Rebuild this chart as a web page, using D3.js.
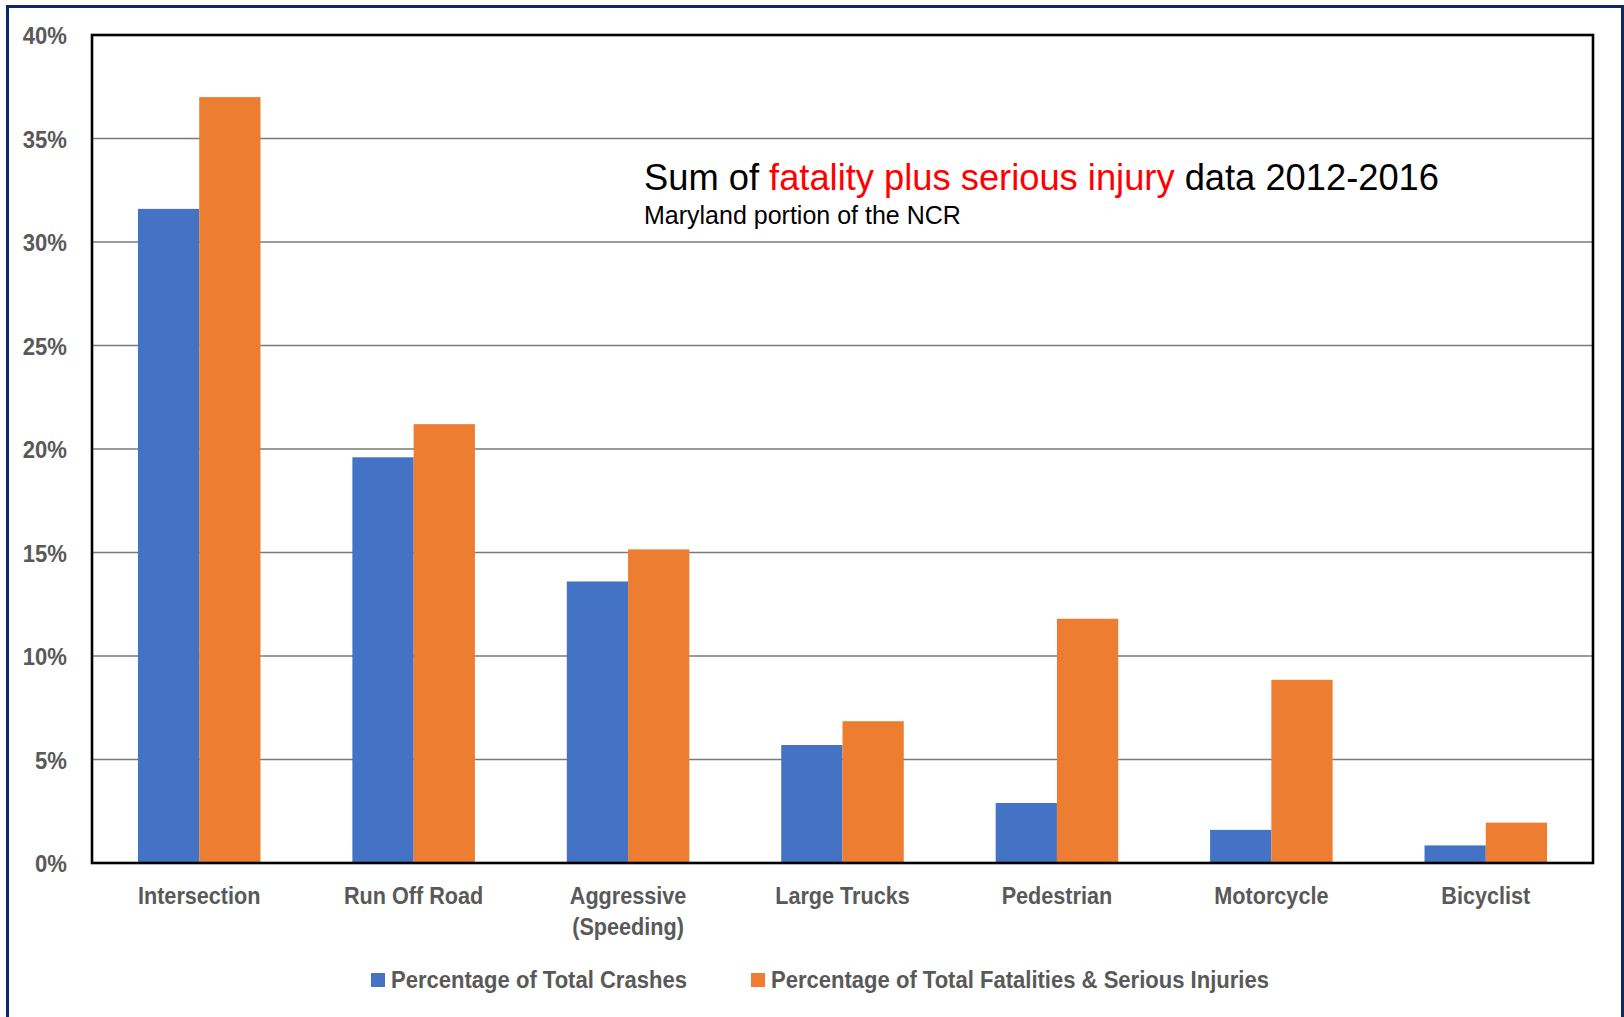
<!DOCTYPE html>
<html>
<head>
<meta charset="utf-8">
<script src="https://cdn.jsdelivr.net/npm/d3@7"></script>
<style>
  html, body { margin: 0; padding: 0; background: #fff; overflow: hidden; }
  svg text { font-family: "Liberation Sans", Arial, sans-serif; }
</style>
</head>
<body>
<script>
// chart data
const categories = ['Intersection', 'Run Off Road', 'Aggressive\n(Speeding)', 'Large Trucks', 'Pedestrian', 'Motorcycle', 'Bicyclist']
const seriesNames = ['Percentage of Total Crashes', 'Percentage of Total Fatalities & Serious Injuries']
const crashes = [31.6, 19.6, 13.6, 5.7, 2.9, 1.6, 0.85]
const fatalities = [37.0, 21.2, 15.15, 6.85, 11.8, 8.85, 1.95]
const yTicks = [0, 5, 10, 15, 20, 25, 30, 35, 40]
const colors = ['#4472C4', '#ED7D31']

const WIDTH = 1624
const HEIGHT = 1017
const plot = { left: 92, right: 1593, top: 35, bottom: 863 }

// squeeze text a little, the original uses a narrow face
function narrow(sel, k) {
  sel.each(function() {
    const len = this.getComputedTextLength()
    d3.select(this)
      .attr('textLength', len * k)
      .attr('lengthAdjust', 'spacingAndGlyphs')
  })
}

const svg = d3.select('body')
  .append('svg')
  .attr('width', WIDTH)
  .attr('height', HEIGHT)

// outer navy frame (bottom edge cut off)
svg.append('rect')
  .attr('x', 7.5)
  .attr('y', 6.5)
  .attr('width', 1615)
  .attr('height', 1100)
  .attr('fill', 'none')
  .attr('stroke', '#0b2869')
  .attr('stroke-width', 3)

const x0 = d3.scaleBand()
  .domain(categories)
  .range([plot.left, plot.right])
  .padding(0)

const x1 = d3.scaleBand()
  .domain(seriesNames)
  .range([0, x0.bandwidth()])
  .paddingInner(0)
  .paddingOuter(0.75)

const y = d3.scaleLinear()
  .domain([0, 40])
  .range([plot.bottom, plot.top])

// gridlines
svg.append('g')
  .selectAll('line')
  .data(yTicks.slice(1, -1))
  .enter()
  .append('line')
  .attr('x1', plot.left)
  .attr('x2', plot.right)
  .attr('y1', d => y(d))
  .attr('y2', d => y(d))
  .attr('stroke', '#7a7a7a')
  .attr('stroke-width', 1.6)

// bars
const groups = svg.append('g')
  .selectAll('g')
  .data(categories.map((c, i) => ({ c, vals: [crashes[i], fatalities[i]] })))
  .enter()
  .append('g')
  .attr('transform', d => `translate(${x0(d.c)},0)`)

groups.selectAll('rect')
  .data(d => d.vals.map((v, j) => ({ key: seriesNames[j], v, j })))
  .enter()
  .append('rect')
  .attr('x', d => x1(d.key))
  .attr('width', x1.bandwidth())
  .attr('y', d => y(d.v))
  .attr('height', d => y(0) - y(d.v))
  .attr('fill', d => colors[d.j])

// plot frame
svg.append('rect')
  .attr('x', plot.left)
  .attr('y', plot.top)
  .attr('width', plot.right - plot.left)
  .attr('height', plot.bottom - plot.top)
  .attr('fill', 'none')
  .attr('stroke', '#000')
  .attr('stroke-width', 2.6)

// y axis labels
const yAxis = d3.axisLeft(y)
  .tickValues(yTicks)
  .tickFormat(d => d + '%')
  .tickSize(0)
  .tickPadding(25)

svg.append('g')
  .attr('transform', `translate(${plot.left},0)`)
  .call(yAxis)
  .call(g => g.select('.domain').remove())
  .call(g => g.selectAll('text')
    .attr('fill', '#595959')
    .attr('font-size', 23)
    .attr('font-weight', 'bold')
    .attr('font-family', null)
    .attr('dy', '0.38em'))
  .call(g => narrow(g.selectAll('text'), 0.96))

// x axis labels
const xAxis = d3.axisBottom(x0).tickSize(0).tickPadding(0).tickFormat('')
const xg = svg.append('g')
  .attr('transform', `translate(0,${plot.bottom})`)
  .call(xAxis)
xg.select('.domain').remove()
xg.selectAll('.tick').each(function(d) {
  const t = d3.select(this).append('text')
    .attr('fill', '#595959')
    .attr('font-size', 23)
    .attr('font-weight', 'bold')
    .attr('text-anchor', 'middle')
  d.split('\n').forEach((line, i) => {
    t.append('tspan').attr('x', 0).attr('y', 41 + i * 31).text(line)
  })
})
narrow(xg.selectAll('tspan'), 0.94)

// title
const title = svg.append('text')
  .attr('x', 644)
  .attr('y', 190)
  .attr('font-size', 36.3)
  .attr('fill', '#000')
title.append('tspan').text('Sum of ')
title.append('tspan').attr('fill', '#ff0000').text('fatality plus serious injury')
title.append('tspan').text(' data 2012-2016')

svg.append('text')
  .attr('x', 644)
  .attr('y', 224)
  .attr('font-size', 25)
  .attr('fill', '#000')
  .text('Maryland portion of the NCR')

// legend
const legendX = [371, 751]
const legend = svg.append('g')
  .selectAll('g')
  .data(seriesNames)
  .enter()
  .append('g')
  .attr('transform', (d, i) => `translate(${legendX[i]},980)`)

legend.append('rect')
  .attr('x', 0)
  .attr('y', -7)
  .attr('width', 14)
  .attr('height', 14)
  .attr('fill', (d, i) => colors[i])

legend.append('text')
  .attr('x', 20)
  .attr('y', 8)
  .attr('font-size', 23)
  .attr('font-weight', 'bold')
  .attr('fill', '#595959')
  .text(d => d)
  .call(s => narrow(s, 0.958))
</script>
</body>
</html>
